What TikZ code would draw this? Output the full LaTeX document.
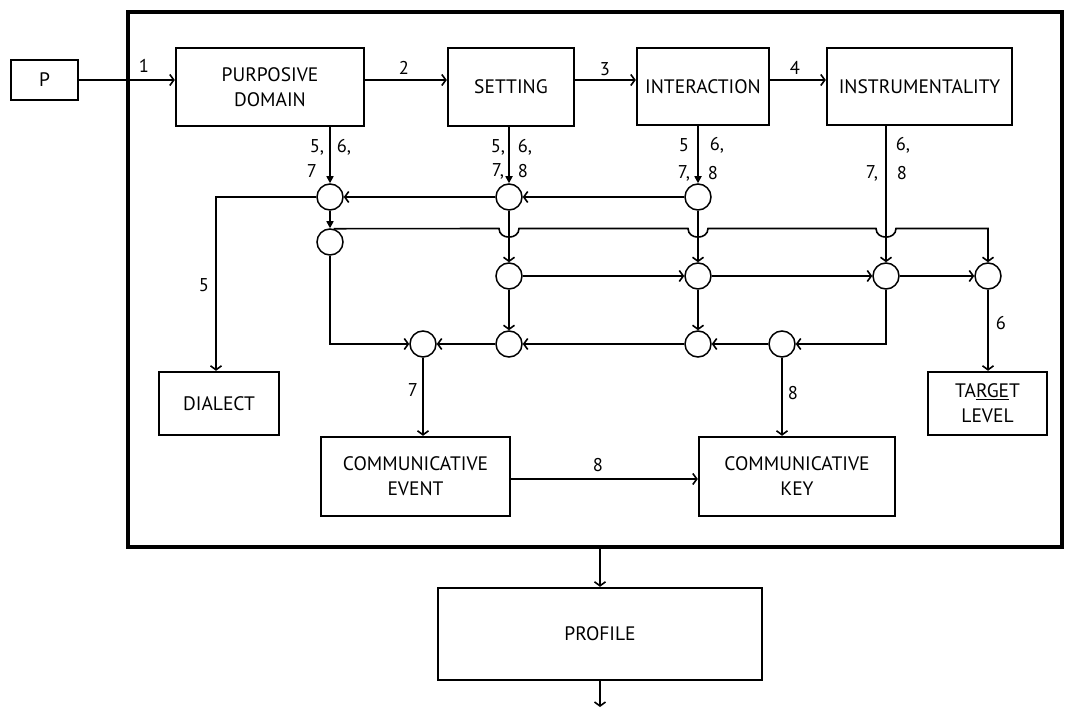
\documentclass[tikz,border=0pt]{standalone}
\usepackage{fontspec}
\setmainfont{PT Sans}
\usetikzlibrary{arrows.meta,calc}
\begin{document}
\begin{tikzpicture}[x=1pt,y=-1pt,
  box/.style={draw,line width=2.4pt,rectangle,inner sep=0pt,align=center,font=\fontsize{19.5}{25}\selectfont},
  jn/.style={draw,circle,line width=1.5pt,minimum size=26pt,inner sep=0pt},
  con/.style={line width=1.6pt},
  arr/.style={con,-{Straight Barb[length=4pt,width=11pt]}},
  farr/.style={con,-{Triangle[length=7pt,width=7pt]}},
  lab/.style={inner sep=0pt,font=\fontsize{18.5}{20}\selectfont}]
\useasboundingbox (0,0) rectangle (1065,708);
\fill[white] (0,0) rectangle (1065,708);
% frame
\node[draw,line width=3.2pt,minimum width=934pt,minimum height=535pt,inner sep=0pt] (frame) at (595,279.5) {};
% boxes
\node[box,minimum width=67pt,minimum height=40pt] (P) at (44.5,80) {P};
\node[box,minimum width=188pt,minimum height=78pt] (PD) at (270,87) {PURPOSIVE\\DOMAIN};
\node[box,minimum width=126pt,minimum height=78pt] (SET) at (511,87) {SETTING};
\node[box,minimum width=132pt,minimum height=77pt] (INT) at (703,86.5) {INTERACTION};
\node[box,minimum width=185pt,minimum height=77pt] (INS) at (919.5,86.5) {INSTRUMENTALITY};
\node[box,minimum width=120pt,minimum height=63pt] (DIA) at (219,403.5) {DIALECT};
\node[box,minimum width=119pt,minimum height=63pt] (TL) at (987.5,403.5) {TA\underline{RGE}T\\LEVEL};
\node[box,minimum width=189pt,minimum height=79pt] (CE) at (415.5,476.5) {COMMUNICATIVE\\EVENT};
\node[box,minimum width=196pt,minimum height=79pt] (CK) at (797,476.5) {COMMUNICATIVE\\KEY};
\node[box,minimum width=324pt,minimum height=92pt] (PR) at (600,634) {PROFILE};
% junction circles
\foreach \n/\x/\y in {A1/330/197,A2/509/197,A3/698/197,B1/330/242,C2/509/276,C3/698/276,C4/886/276,C5/988/276,D1/423/344,D2/509/344,D3/698/344,D4/782/344}
  \node[jn] (\n) at (\x,\y) {};
% top chain
\draw[arr] (P.east) -- (P.east -| PD.west);
\draw[arr] (PD.east |- P.east) -- (P.east -| SET.west);
\draw[arr] (SET.east |- P.east) -- (P.east -| INT.west);
\draw[arr] (INT.east |- P.east) -- (P.east -| INS.west);
% down from boxes
\draw[farr] (A1 |- PD.south) -- (A1.north);
\draw[farr] (A2 |- SET.south) -- (A2.north);
\draw[farr] (A3 |- INT.south) -- (A3.north);
\draw[arr] (C4 |- INS.south) -- (C4.north);
% row A
\draw[arr] (A3.west) -- (A2.east);
\draw[arr] (A2.west) -- (A1.east);
\draw[arr] (A1.west) -| (216,0 |- DIA.north);
\draw[farr] (A1.south) -- (B1.north);
% jump line
\draw[arr] (B1.75) -- (499,228.5) .. controls (499,240) and (519,240) .. (519,228.5)
  -- (688,228.5) .. controls (688,240) and (708,240) .. (708,228.5)
  -- (876,228.5) .. controls (876,240) and (896,240) .. (896,228.5)
  -- (988,228.5) -- (C5.north);
% verticals
\draw[arr] (A2.south) -- (C2.north);
\draw[arr] (C2.south) -- (D2.north);
\draw[arr] (A3.south) -- (C3.north);
\draw[arr] (C3.south) -- (D3.north);
% row C
\draw[arr] (C2.east) -- (C3.west);
\draw[arr] (C3.east) -- (C4.west);
\draw[arr] (C4.east) -- (C5.west);
\draw[arr] (C5.south) -- (C5 |- TL.north);
% row D
\draw[arr] (C4.south) |- (D4.east);
\draw[arr] (D4.west) -- (D3.east);
\draw[arr] (D3.west) -- (D2.east);
\draw[arr] (D2.west) -- (D1.east);
\draw[arr] (B1.south) |- (D1.west);
\draw[arr] (D1.south) -- (D1 |- CE.north);
\draw[arr] (D4.south) -- (D4 |- CK.north);
\draw[arr] ([yshift=-2.5pt]CE.east) -- ([yshift=-2.5pt]CE.east -| CK.west);
% to profile
\draw[arr] (frame.south -| PR.north) -- (PR.north);
\coordinate (out) at (600,707);
\draw[arr] (PR.south) -- (out);
% labels
\node[lab] (t1) at (144,66) {1};
\node[lab] (t2) at (404,68) {2};
\node[lab] (t3) at (605,69) {3};
\node[lab] (t4) at (795,68) {4};
\node[lab] (a5) at (317,147) {5,};
\node[lab] (a6) at (344,147) {6,};
\node[lab] (a7) at (312,171) {7};
\node[lab] (b5) at (498,147) {5,};
\node[lab] (b6) at (525,147) {6,};
\node[lab] (b7) at (498,171) {7,};
\node[lab] (b8) at (523,171) {8};
\node[lab] (c5) at (684,145) {5};
\node[lab] (c6) at (717,145) {6,};
\node[lab] (c7) at (684,173) {7,};
\node[lab] (c8) at (713,173) {8};
\node[lab] (d6) at (903,145) {6,};
\node[lab] (d7) at (872,173) {7,};
\node[lab] (d8) at (902,173) {8};
\node[lab] (e5) at (204,285) {5};
\node[lab] (e6) at (1001,323) {6};
\node[lab] (e7) at (413,390) {7};
\node[lab] (e8) at (793,393) {8};
\node[lab] (f8) at (598,465) {8};
\end{tikzpicture}
\end{document}
